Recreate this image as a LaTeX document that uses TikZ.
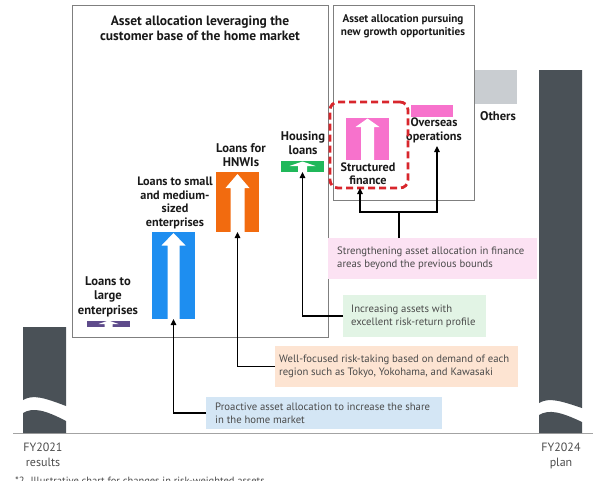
\documentclass[tikz,border=0pt]{standalone}
\usepackage{fontspec}
\setmainfont{PT Sans}
\usetikzlibrary{calc,arrows.meta}
\definecolor{darkbar}{HTML}{4A5157}
\definecolor{othersgray}{HTML}{C9CDD1}
\definecolor{smeblue}{HTML}{1E8EF0}
\definecolor{hnwiorange}{HTML}{F26B0F}
\definecolor{housegreen}{HTML}{20B85A}
\definecolor{largepurple}{HTML}{5E4B8B}
\definecolor{sfpink}{HTML}{F772CC}
\definecolor{dashred}{HTML}{D8262C}
\definecolor{notepink}{HTML}{FCE2F3}
\definecolor{notegreen}{HTML}{E2F4E5}
\definecolor{noteorange}{HTML}{FDE4D2}
\definecolor{noteblue}{HTML}{D4E6F5}
\definecolor{framegray}{HTML}{7F7F7F}
\definecolor{basegray}{HTML}{A3A3A3}
\definecolor{notetext}{HTML}{4A4A4A}
\newcommand{\wArrow}[6]{%
  \fill[white] (#1,#2) -- (#1+#5,#2+#4) -- (#1+#6,#2+#4) -- (#1+#6,#3)
    -- (#1-#6,#3) -- (#1-#6,#2+#4) -- (#1-#5,#2+#4) -- cycle;}
\begin{document}
\begin{tikzpicture}[x=1pt,y=-1pt,
  frame/.style={draw=framegray, line width=1pt},
  barbox/.style={rectangle, inner sep=0pt, outer sep=0pt, draw=none},
  lbl/.style={font=\bfseries\fontsize{12.6}{14.5}\selectfont, align=center, text=black!90, inner sep=0pt},
  slbl/.style={font=\bfseries\fontsize{12.2}{13.5}\selectfont, align=center, text=black!90, inner sep=0pt},
  ttl/.style={font=\bfseries\fontsize{13.5}{15}\selectfont, align=center, text=black!90, inner sep=0pt},
  fy/.style={font=\fontsize{12}{15}\selectfont, align=center, text=black!70, inner sep=0pt},
  notebox/.style={rectangle, inner sep=0pt, outer sep=0pt, draw=none},
  notetxt/.style={font=\fontsize{10.7}{12.8}\selectfont, align=left, text=notetext, inner sep=0pt, anchor=west},
  conn/.style={draw=black, line width=1.2pt, -{Triangle[length=6pt,width=5.5pt]}},
  line/.style={draw=black, line width=1.2pt}
]
\useasboundingbox (0,0) rectangle (593,480);

% frames
\draw[frame] (72,5) rectangle (328,337);
\draw[frame] (333,5) rectangle (474,200);
\node[ttl] (t1) at (200,28.5) {Asset allocation leveraging the\\customer base of the home market};
\node[ttl, font=\bfseries\fontsize{11.2}{13}\selectfont] (t2) at (403,26.5) {Asset allocation pursuing\\new growth opportunities};

% baseline
\draw[draw=basegray, line width=1.5pt] (13,433.5) -- (593,433.5);

% FY2021 bar with break
\fill[darkbar] (23,327) -- (66,327) -- (66,406) .. controls (45,398) and (33,394) .. (23,400) -- cycle;
\fill[darkbar] (23,413) .. controls (33,407) and (45,410) .. (66,421) -- (66,433) -- (23,433) -- cycle;
\node[barbox, minimum width=43pt, minimum height=106pt] (fy21bar) at (44.5,380) {};
% FY2024 bar with break
\fill[darkbar] (539,70) -- (582,70) -- (582,408) .. controls (561,401) and (549,397) .. (539,403) -- cycle;
\fill[darkbar] (539,415) .. controls (549,409) and (561,412) .. (582,422) -- (582,433) -- (539,433) -- cycle;
\node[barbox, minimum width=43pt, minimum height=363pt] (fy24bar) at (560.5,251.5) {};
\node[fy] (fy21) at (43,454.5) {FY2021\\results};
\node[fy] (fy24) at (561,455.5) {FY2024\\plan};

% Others
\node[barbox, fill=othersgray, minimum width=42pt, minimum height=34pt] (others) at (496,87) {};
\node[lbl] (otherslbl) at (498,116) {Others};

% Large enterprises
\node[barbox, fill=largepurple, minimum width=43pt, minimum height=6pt] (large) at (108.5,324) {};
\wArrow{108.5}{320.5}{327.5}{3.5}{10}{4}
\node[lbl] (largelbl) at (108,296.5) {Loans to\\large\\enterprises};

% SME
\node[barbox, fill=smeblue, minimum width=43pt, minimum height=87pt] (sme) at (173.5,275.5) {};
\wArrow{173.5}{233}{319.5}{12.5}{12}{6}
\node[slbl] (smelbl) at (175,203) {Loans to small\\and medium-\\sized\\enterprises};

% HNWI
\node[barbox, fill=hnwiorange, minimum width=43pt, minimum height=60pt] (hnwi) at (237.5,202) {};
\wArrow{237.5}{174}{232.5}{14}{12}{7}
\node[lbl] (hnwilbl) at (241,155) {Loans for\\HNWIs};

% Housing
\node[barbox, fill=housegreen, minimum width=43pt, minimum height=11pt] (house) at (302.5,166.5) {};
\wArrow{302.5}{161.5}{172.5}{4.5}{13}{4.5}
\node[lbl] (houselbl) at (303,143) {Housing\\loans};

% Structured finance
\node[barbox, fill=sfpink, minimum width=43pt, minimum height=42pt] (sf) at (367.5,139) {};
\wArrow{367.5}{118.5}{160.5}{8.5}{12}{6.5}
\node[slbl] (sflbl) at (368,173.5) {Structured\\finance};

% Overseas
\node[barbox, fill=sfpink, minimum width=42pt, minimum height=12pt] (ovs) at (432,111) {};
\node[slbl] (ovslbl) at (434,130.5) {Overseas\\operations};

% dashed highlight
\node[barbox, draw=dashred, line width=2.8pt, dash pattern=on 7pt off 4pt, rounded corners=8pt,
      minimum width=78pt, minimum height=86pt] (dashbox) at (369,145) {};

% notes
\node[notebox, fill=notepink, minimum width=209pt, minimum height=41pt] (npink) at (432.5,258.5) {};
\node[notetxt] (npinkt) at ([xshift=9pt]npink.west) {Strengthening asset allocation in finance\\areas beyond the previous bounds};
\node[notebox, fill=notegreen, minimum width=143pt, minimum height=42pt] (ngreen) at (414.5,316) {};
\node[notetxt] (ngreent) at ([xshift=8pt]ngreen.west) {Increasing assets with\\excellent risk-return profile};
\node[notebox, fill=noteorange, minimum width=243pt, minimum height=41pt] (norange) at (396.5,366.5) {};
\node[notetxt] (noranget) at ([xshift=4pt]norange.west) {Well-focused risk-taking based on demand of each\\region such as Tokyo, Yokohama, and Kawasaki};
\node[notebox, fill=noteblue, minimum width=236pt, minimum height=32pt] (nblue) at (324,413) {};
\node[notetxt] (nbluet) at ([xshift=9pt]nblue.west) {Proactive asset allocation to increase the share\\in the home market};

% connectors
\draw[conn] (nblue.west) -| (sme.south);
\draw[conn] (norange.west) -| (hnwi.south);
\draw[conn] (ngreen.west) -| (house.south);
\coordinate (j) at (399,212);
\coordinate (jl) at (360,212);
\coordinate (jr) at (437,212);
\draw[line] (npink.north -| j) -- (j);
\draw[conn] (j) -- (jl) -- (jl |- dashbox.south);
\draw[conn] (j) -- (jr) -- ([yshift=-3pt]jr |- ovslbl.south);

% footnote (cut off at bottom, as in the reference)
\node[font=\fontsize{10.5}{12}\selectfont, text=black!70, anchor=base west, inner sep=0pt] (foot) at (15,484)
  {*2. Illustrative chart for changes in risk-weighted assets};
\end{tikzpicture}
\end{document}
